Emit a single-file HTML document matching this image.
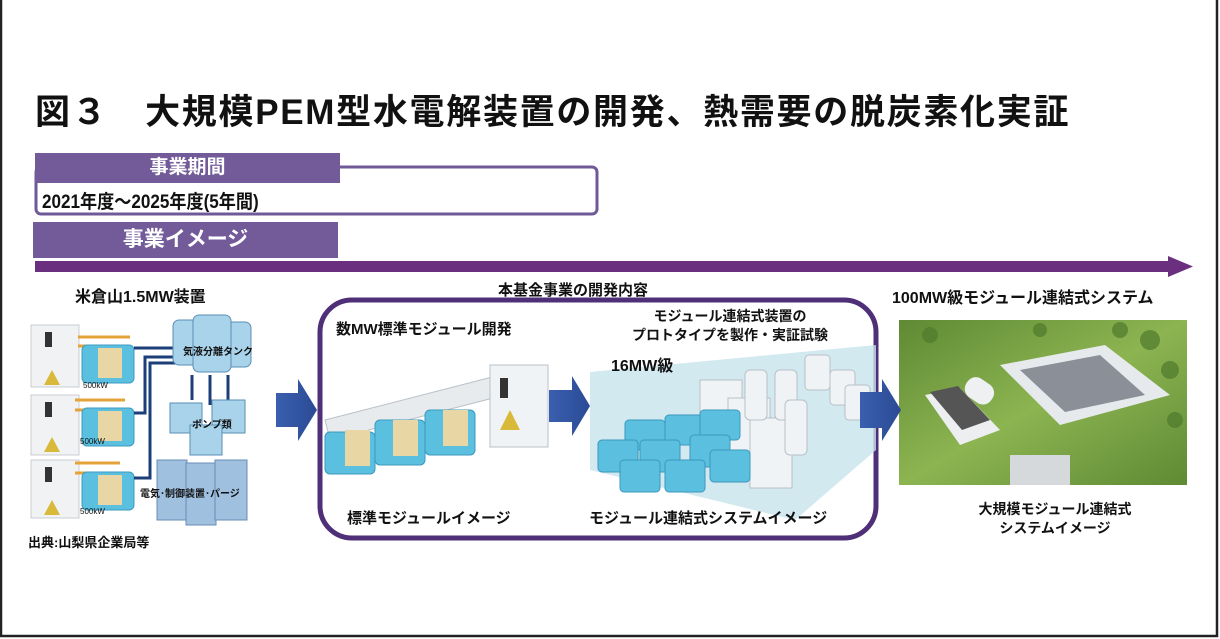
<!DOCTYPE html>
<html><head><meta charset="utf-8"><style>
body{margin:0;background:#fff;}
#c{position:relative;width:1220px;height:639px;overflow:hidden;background:#fff;font-family:"Liberation Sans","Noto Sans CJK JP",sans-serif;font-weight:bold;color:#111;}
.t{position:absolute;white-space:nowrap;}
</style></head><body><div id="c">
<svg width="1220" height="639" style="position:absolute;left:0;top:0">
<rect x="1" y="-5" width="1216" height="641" fill="none" stroke="#222" stroke-width="2.5"/>
<rect x="36" y="167" width="561" height="47" rx="5" fill="#fff" stroke="#6f5a97" stroke-width="3"/>
<rect x="35" y="153" width="305" height="30" fill="#725b98"/>
<rect x="33" y="222" width="305" height="36" fill="#725b98"/>
<rect x="35" y="261" width="1140" height="11" fill="#6a2f7e"/>
<polygon points="1168,256 1193,266.5 1168,277" fill="#6a2f7e"/>
<rect x="320" y="300" width="556" height="238" rx="32" fill="none" stroke="#4e2f78" stroke-width="5"/>
<defs><linearGradient id="ab" x1="0" x2="1"><stop offset="0" stop-color="#3a5fae"/><stop offset="1" stop-color="#2b4a95"/></linearGradient>
<linearGradient id="gr" x1="0" y1="0" x2="1" y2="1"><stop offset="0" stop-color="#5f8a34"/><stop offset=".5" stop-color="#8cb451"/><stop offset="1" stop-color="#5f8a34"/></linearGradient></defs>
<polygon points="276,393 298,393 298,379 317,410 298,441 298,427 276,427" fill="url(#ab)"/>
<polygon points="549,390 572,390 572,376 590,406 572,436 572,422 549,422" fill="url(#ab)"/>
<g fill="#f0f2f4" stroke="#c8ccd2">
<rect x="31" y="325" width="48" height="62"/><rect x="31" y="395" width="48" height="60"/><rect x="31" y="460" width="48" height="58"/>
</g>
<g fill="#d9b93a"><polygon points="52,370 44,385 60,385"/><polygon points="52,437 44,452 60,452"/><polygon points="52,500 44,515 60,515"/></g>
<g fill="#333"><rect x="45" y="332" width="7" height="15"/><rect x="45" y="402" width="7" height="15"/><rect x="45" y="467" width="7" height="15"/></g>
<g stroke="#e4a33a" stroke-width="3"><line x1="78" y1="337" x2="130" y2="337"/><line x1="78" y1="346" x2="110" y2="346"/><line x1="75" y1="400" x2="125" y2="400"/><line x1="75" y1="410" x2="110" y2="410"/><line x1="75" y1="463" x2="120" y2="463"/><line x1="75" y1="473" x2="110" y2="473"/></g>
<g fill="#5bbfe0" stroke="#3d9bbf"><rect x="82" y="345" width="52" height="38" rx="5"/><rect x="82" y="408" width="52" height="38" rx="5"/><rect x="82" y="472" width="52" height="38" rx="5"/></g>
<g fill="#e8d7a4"><rect x="98" y="348" width="24" height="30"/><rect x="98" y="411" width="24" height="30"/><rect x="98" y="475" width="24" height="30"/></g>
<g stroke="#1c3f7a" stroke-width="3" fill="none"><path d="M134,348 H175"/><path d="M134,413 H145 V357 H175"/><path d="M134,478 H150 V363 H175"/><path d="M192,375 V400"/><path d="M210,375 V405"/><path d="M228,375 V400"/></g>
<g fill="#a9d3ea" stroke="#5a8fb5"><rect x="173" y="320" width="38" height="45" rx="6"/><rect x="213" y="322" width="38" height="45" rx="6"/><rect x="193" y="315" width="38" height="57" rx="6"/></g>
<g fill="#a9d3ea" stroke="#5a8fb5"><rect x="170" y="403" width="32" height="30"/><rect x="212" y="400" width="33" height="33"/><rect x="190" y="425" width="32" height="30"/></g>
<g fill="#9fc0de" stroke="#6a8db5"><rect x="157" y="460" width="30" height="60"/><rect x="186" y="463" width="30" height="62"/><rect x="215" y="460" width="32" height="60"/></g>
<polygon points="590,372 876,345 876,450 795,520 590,470" fill="#c7e3ec" opacity=".8"/>
<polygon points="325,420 500,375 505,395 330,440" fill="#e7ebee" stroke="#b8c0c7"/>
<rect x="490" y="365" width="58" height="82" fill="#f0f3f5" stroke="#b8c0c7"/>
<rect x="500" y="378" width="8" height="20" fill="#333"/><polygon points="510,410 500,430 520,430" fill="#d9b93a"/>
<g fill="#5bbfe0" stroke="#3c98bd"><rect x="325" y="432" width="50" height="42" rx="5"/><rect x="375" y="420" width="50" height="45" rx="5"/><rect x="425" y="410" width="50" height="45" rx="5"/></g>
<g fill="#e8d7a4"><rect x="345" y="430" width="25" height="36"/><rect x="393" y="420" width="25" height="36"/><rect x="443" y="410" width="25" height="36"/></g>
<g fill="#f0f3f5" stroke="#b8c0c7"><rect x="700" y="380" width="42" height="70"/><rect x="728" y="398" width="42" height="70"/><rect x="750" y="418" width="42" height="70"/>
<rect x="745" y="370" width="22" height="50" rx="5"/><rect x="775" y="370" width="22" height="50" rx="5"/><rect x="785" y="400" width="22" height="55" rx="5"/>
<rect x="805" y="355" width="25" height="35" rx="4"/><rect x="830" y="370" width="25" height="35" rx="4"/><rect x="845" y="385" width="25" height="35" rx="4"/></g>
<g fill="#5bbfe0" stroke="#3c98bd">
<rect x="625" y="420" width="40" height="30" rx="4"/><rect x="665" y="415" width="40" height="30" rx="4"/><rect x="700" y="410" width="40" height="30" rx="4"/>
<rect x="598" y="440" width="40" height="32" rx="4"/><rect x="640" y="440" width="40" height="32" rx="4"/><rect x="690" y="435" width="40" height="32" rx="4"/>
<rect x="620" y="460" width="40" height="32" rx="4"/><rect x="665" y="460" width="40" height="32" rx="4"/><rect x="710" y="450" width="40" height="32" rx="4"/></g>
<rect x="899" y="320" width="288" height="165" fill="url(#gr)"/>
<g fill="#4f7a2c" opacity=".7"><circle cx="930" cy="335" r="8"/><circle cx="1150" cy="340" r="10"/><circle cx="1170" cy="370" r="9"/><circle cx="1040" cy="330" r="7"/><circle cx="1120" cy="330" r="8"/><circle cx="1175" cy="420" r="8"/></g>
<polygon points="1000,365 1105,345 1170,395 1060,425" fill="#e7eaec"/>
<polygon points="1020,370 1100,355 1145,395 1065,412" fill="#8b9098"/>
<polygon points="925,395 960,388 1000,430 960,445" fill="#eceeef"/>
<polygon points="930,392 958,386 990,420 962,430" fill="#555"/>
<rect x="965" y="380" width="30" height="22" rx="10" fill="#eef0f2" transform="rotate(35 980 390)"/>
<rect x="1010" y="455" width="60" height="30" fill="#d5d9dc"/>
<polygon points="860,392 882,392 882,379 901,410 882,441 882,428 860,428" fill="url(#ab)"/>
</svg>
<div class="t" style="left:35px;top:84px;font-size:35px;letter-spacing:1.7px">図３　大規模PEM型水電解装置の開発、熱需要の脱炭素化実証</div>
<div class="t" style="left:35px;top:154px;width:305px;text-align:center;font-size:19px;color:#fff;line-height:28px">事業期間</div>
<div class="t" style="left:42px;top:187px;font-size:19px;transform:scaleX(.9);transform-origin:left">2021年度～2025年度(5年間)</div>
<div class="t" style="left:33px;top:224px;width:305px;text-align:center;font-size:21px;color:#fff;line-height:32px">事業イメージ</div>
<div class="t" style="left:75px;top:283px;font-size:16px">米倉山1.5MW装置</div>
<div class="t" style="left:183px;top:343px;font-size:10px">気液分離タンク</div>
<div class="t" style="left:192px;top:416px;font-size:10px">ポンプ類</div>
<div class="t" style="left:140px;top:485px;font-size:10px">電気･制御装置･パージ</div>
<div class="t" style="left:83px;top:381px;font-size:8px;font-weight:normal">500kW</div>
<div class="t" style="left:80px;top:437px;font-size:8px;font-weight:normal">500kW</div>
<div class="t" style="left:80px;top:507px;font-size:8px;font-weight:normal">500kW</div>
<div class="t" style="left:28px;top:532px;font-size:13px">出典:山梨県企業局等</div>
<div class="t" style="left:498px;top:279px;font-size:15px">本基金事業の開発内容</div>
<div class="t" style="left:336px;top:318px;font-size:15px">数MW標準モジュール開発</div>
<div class="t" style="left:620px;top:307px;width:220px;text-align:center;font-size:14px;line-height:19px">モジュール連結式装置の<br>プロトタイプを製作・実証試験</div>
<div class="t" style="left:611px;top:352px;font-size:16px">16MW級</div>
<div class="t" style="left:347px;top:507px;font-size:15px">標準モジュールイメージ</div>
<div class="t" style="left:589px;top:507px;font-size:15px">モジュール連結式システムイメージ</div>
<div class="t" style="left:892px;top:284px;font-size:16px">100MW級モジュール連結式システム</div>
<div class="t" style="left:955px;top:500px;width:200px;text-align:center;font-size:14px;line-height:19px">大規模モジュール連結式<br>システムイメージ</div>
</div></body></html>
